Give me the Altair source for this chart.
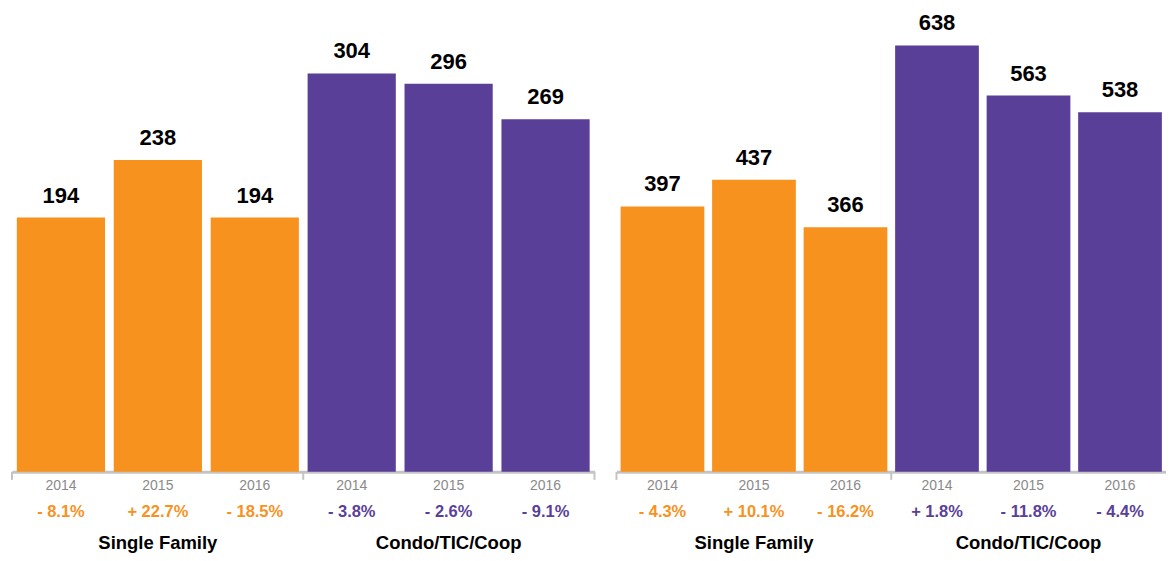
import altair as alt
import pandas as pd

years = ["2014", "2015", "2016"]
groups = ["Single Family", "Condo/TIC/Coop"]

left_values = [194, 238, 194, 304, 296, 269]
left_pct = ["- 8.1%", "+ 22.7%", "- 18.5%", "- 3.8%", "- 2.6%", "- 9.1%"]

right_values = [397, 437, 366, 638, 563, 538]
right_pct = ["- 4.3%", "+ 10.1%", "- 16.2%", "+ 1.8%", "- 11.8%", "- 4.4%"]

ORANGE = "#F7921E"
PURPLE = "#5A3F98"
GREY_AXIS = "#C4C4C4"
FONT = "Liberation Sans"

H = 464
keys = [f"{g}|{y}" for g in groups for y in years]


def make_df(values, pct):
    rows = []
    i = 0
    for g in groups:
        for y in years:
            rows.append({"key": f"{g}|{y}", "group": g, "year": y,
                         "value": values[i], "pct": pct[i]})
            i += 1
    return pd.DataFrame(rows)


cat_df = pd.DataFrame({"key": [f"{g}|2015" for g in groups], "group": groups})


def panel(values, pct, width, ymax, pi, po, tick_positions):
    df = make_df(values, pct)
    xenc = alt.X("key:N", sort=keys,
                 scale=alt.Scale(paddingInner=pi, paddingOuter=po),
                 axis=alt.Axis(labels=False, ticks=False, title=None, grid=False,
                               domain=True, domainColor=GREY_AXIS, domainWidth=3))
    color = alt.Color("group:N", scale=alt.Scale(domain=groups, range=[ORANGE, PURPLE]),
                      legend=None)
    base = alt.Chart(df).encode(x=xenc)
    bars = base.mark_bar().encode(
        y=alt.Y("value:Q", scale=alt.Scale(domain=[0, ymax], nice=False, zero=True), axis=None),
        color=color,
    )
    vals = base.mark_text(font=FONT, fontSize=22, fontWeight="bold", color="#000000",
                          baseline="alphabetic", dy=-15).encode(
        y=alt.Y("value:Q"), text="value:Q")
    yrs = base.mark_text(font=FONT, fontSize=14, color="#8A8A8A", baseline="middle").encode(
        y=alt.value(H + 14), text="year:N")
    pcts = base.mark_text(font=FONT, fontSize=16.5, fontWeight="bold", baseline="middle").encode(
        y=alt.value(H + 40), text="pct:N", color=color)
    cats = alt.Chart(cat_df).mark_text(font=FONT, fontSize=18.5, fontWeight="bold",
                                       color="#000000", baseline="middle").encode(
        x=alt.X("key:N", sort=keys), y=alt.value(H + 71), text="group:N")
    layers = [bars, vals, yrs, pcts, cats]
    for px in tick_positions:
        layers.append(
            alt.Chart(cat_df.head(1)).mark_rule(color=GREY_AXIS, strokeWidth=2).encode(
                x=alt.value(px), y=alt.value(H), y2=alt.value(H + 8))
        )
    return alt.layer(*layers).properties(width=width, height=H)


LW = 583
RW = 550
left = panel(left_values, left_pct, LW, 353.7, 0.09, 0.05, [0, LW / 2, LW])
right = panel(right_values, right_pct, RW, 693.6, 0.085, 0.045, [0, RW / 2])

chart = alt.hconcat(left, right, spacing=20).properties(
    padding={"left": 3, "top": 0, "right": 0, "bottom": 0}
).configure(background="white").configure_view(stroke=None)

chart.save("out.html", embed_options={"renderer": "svg", "actions": False})
